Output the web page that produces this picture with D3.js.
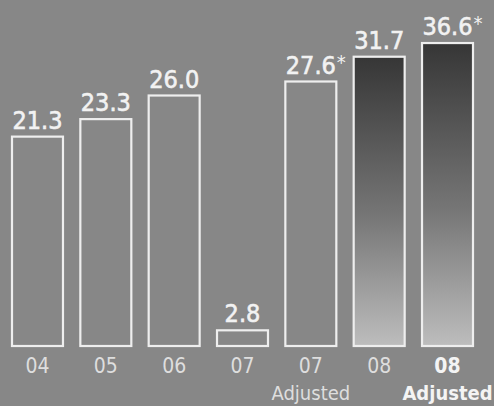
<!DOCTYPE html>
<html>
<head>
<meta charset="utf-8">
<script src="https://cdn.jsdelivr.net/npm/d3@7"></script>
<style>
  html, body { margin: 0; padding: 0; background: #878787; }
  svg { display: block; }
</style>
</head>
<body>
<script>
// Net income by fiscal year (billions), with adjusted figures
const categories = ["04", "05", "06", "07", "07a", "08", "08a"];
const tickLabels = ["04", "05", "06", "07", "07", "08", "08"];
const subLabels  = ["", "", "", "", "Adjusted", "", "Adjusted"];
const values     = [21.3, 23.3, 26.0, 2.8, 27.6, 31.7, 36.6];
const starred    = [false, false, false, false, true, false, true];
const highlighted = [false, false, false, false, false, true, true];
const boldTick   = [false, false, false, false, false, false, true];

const W = 494, H = 406;
const baseY = 346;

const svg = d3.select("body").append("svg")
  .attr("width", W).attr("height", H);

svg.append("rect").attr("width", W).attr("height", H).attr("fill", "#878787");

const defs = svg.append("defs");
const grad = defs.append("linearGradient")
  .attr("id", "barGrad").attr("x1", 0).attr("y1", 0).attr("x2", 0).attr("y2", 1);
grad.append("stop").attr("offset", "0%").attr("stop-color", "#363636");
grad.append("stop").attr("offset", "55%").attr("stop-color", "#767676");
grad.append("stop").attr("offset", "100%").attr("stop-color", "#bdbdbd");

const x = d3.scaleBand()
  .domain(categories)
  .range([12, 473])
  .paddingInner(0.254)
  .paddingOuter(0);

// Compressed value axis: the upper range is squeezed so the tall bars fit
const y = d3.scaleLinear()
  .domain([0, 5, 20, 28, 32, 37])
  .range([baseY, 318, 148, 78, 55, 42]);

const font = "'DejaVu Sans Condensed', 'Liberation Sans Narrow', 'DejaVu Sans', sans-serif";

const g = svg.append("g");

// Bars
g.selectAll("rect.bar")
  .data(values)
  .join("rect")
  .attr("class", "bar")
  .attr("x", (d, i) => x(categories[i]))
  .attr("y", d => y(d))
  .attr("width", x.bandwidth())
  .attr("height", d => baseY - y(d))
  .attr("fill", (d, i) => highlighted[i] ? "url(#barGrad)" : "none")
  .attr("stroke", "#eeeeee")
  .attr("stroke-width", 2.2);

// Value labels
const labels = g.selectAll("g.val")
  .data(values)
  .join("g")
  .attr("class", "val");

labels.append("text")
  .attr("x", (d, i) => x(categories[i]) + x.bandwidth() / 2)
  .attr("y", d => y(d) - 8)
  .attr("text-anchor", "middle")
  .attr("font-family", font)
  .attr("font-size", 25)
  .attr("fill", "#f2f2f2")
  .attr("stroke", "#f2f2f2")
  .attr("stroke-width", 0.6)
  .text(d => d.toFixed(1));

labels.each(function (d, i) {
  if (!starred[i]) return;
  const t = d3.select(this).select("text");
  const w = t.node().getComputedTextLength();
  d3.select(this).append("text")
    .attr("x", x(categories[i]) + x.bandwidth() / 2 + w / 2 + 1)
    .attr("y", y(d) - 13)
    .attr("font-family", font)
    .attr("font-size", 20)
    .attr("fill", "#f2f2f2")
    .text("*");
});

// Category axis labels
g.selectAll("text.tick")
  .data(tickLabels)
  .join("text")
  .attr("class", "tick")
  .attr("x", (d, i) => x(categories[i]) + x.bandwidth() / 2)
  .attr("y", 373)
  .attr("text-anchor", "middle")
  .attr("font-family", font)
  .attr("font-size", 21)
  .attr("font-weight", (d, i) => boldTick[i] ? "bold" : "normal")
  .attr("fill", (d, i) => boldTick[i] ? "#f4f4f4" : "#dedede")
  .text(d => d);

g.selectAll("text.sub")
  .data(subLabels)
  .join("text")
  .attr("class", "sub")
  .attr("x", (d, i) => x(categories[i]) + x.bandwidth() / 2)
  .attr("y", 400)
  .attr("text-anchor", "middle")
  .attr("font-family", font)
  .attr("font-size", 20)
  .attr("font-weight", (d, i) => boldTick[i] ? "bold" : "normal")
  .attr("fill", (d, i) => boldTick[i] ? "#f4f4f4" : "#dedede")
  .text(d => d);
</script>
</body>
</html>
